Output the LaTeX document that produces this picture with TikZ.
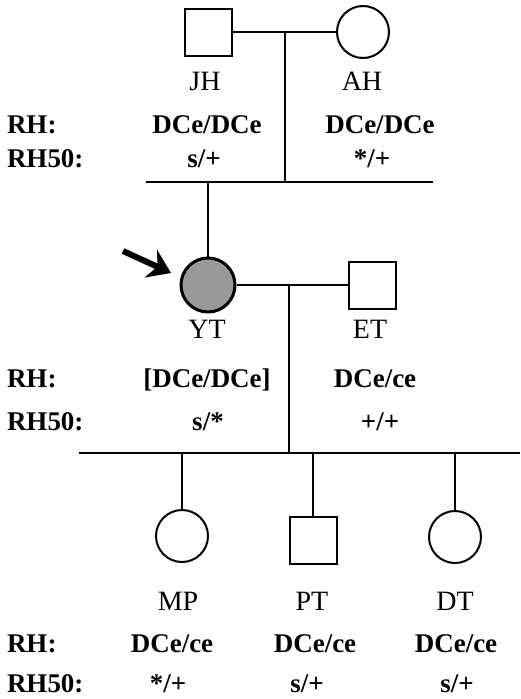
\documentclass[tikz,border=0pt]{standalone}
\usepackage{fontspec}
\setmainfont{Liberation Serif}
\usetikzlibrary{arrows.meta}
\begin{document}
\begin{tikzpicture}[x=1pt,y=-1pt,line width=2pt,
  male/.style={draw,rectangle,minimum size=47pt,inner sep=0pt,line width=2pt},
  female/.style={draw,circle,minimum size=52pt,inner sep=0pt,line width=2pt},
  pname/.style={anchor=base,inner sep=0pt,font=\fontsize{28}{28}\selectfont},
  geno/.style={anchor=base,inner sep=0pt,font=\fontsize{27}{27}\selectfont\bfseries},
  rowlab/.style={anchor=base west,inner sep=0pt,font=\fontsize{27}{27}\selectfont\bfseries},
  conn/.style={draw,line width=2pt}]
\useasboundingbox (0,0) rectangle (520,699);
% generation I
\node[male] (JH) at (208,32) {};
\node[female] (AH) at (363,32) {};
\coordinate (m1) at (285,32);
\coordinate (s1) at (285,182);
\coordinate (s1l) at (146,182);
\coordinate (s1r) at (433,182);
\coordinate (d1) at (208,182);
\draw[conn] (JH.east) -- (AH.west);
\draw[conn] (m1) -- (s1);
\draw[conn] (s1l) -- (s1r);
\node[pname] (tJH) at (205,90) {JH};
\node[pname] (tAH) at (362,90) {AH};
\node[rowlab] (l1a) at (6,133) {RH:};
\node[rowlab] (l1b) at (6,167) {RH50:};
\node[geno] (g1a) at (207,133) {DCe/DCe};
\node[geno] (g1b) at (380,133) {DCe/DCe};
\node[geno] (g1c) at (204,167) {s/+};
\node[geno] (g1d) at (372,167) {*/+};
% generation II
\node[female,fill=black!40,minimum size=54pt,line width=3pt] (YT) at (208,285) {};
\node[male] (ET) at (372,285) {};
\draw[conn] (d1) -- (YT.north);
\coordinate (m2) at (289,285);
\coordinate (s2) at (289,453);
\coordinate (s2l) at (79,453);
\coordinate (s2r) at (520,453);
\draw[conn] (YT.east) -- (ET.west);
\draw[conn] (m2) -- (s2);
\draw[conn] (s2l) -- (s2r);
\coordinate (atail) at (123,251);
\coordinate (atip) at (171,273);
\draw[line width=6pt,-{Stealth[length=22pt,width=30pt,inset=7pt]}] (atail) -- (atip);
\node[pname] (tYT) at (207,338) {YT};
\node[pname] (tET) at (370,338) {ET};
\node[rowlab] (l2a) at (6,387) {RH:};
\node[rowlab] (l2b) at (6,430) {RH50:};
\node[geno] (g2a) at (207,387) {[DCe/DCe]};
\node[geno] (g2b) at (375,387) {DCe/ce};
\node[geno] (g2c) at (208,430) {s/*};
\node[geno] (g2d) at (380,430) {+/+};
% generation III
\node[female] (MP) at (182,536) {};
\node[male] (PT) at (313,540) {};
\node[female] (DT) at (455,537) {};
\draw[conn] (MP.north |- s2l) -- (MP.north);
\draw[conn] (PT.north |- s2l) -- (PT.north);
\draw[conn] (DT.north |- s2l) -- (DT.north);
\node[pname] (tMP) at (178,610) {MP};
\node[pname] (tPT) at (312,610) {PT};
\node[pname] (tDT) at (455,610) {DT};
\node[rowlab] (l3a) at (6,652) {RH:};
\node[rowlab] (l3b) at (6,692) {RH50:};
\node[geno] (g3a) at (172,652) {DCe/ce};
\node[geno] (g3b) at (315,652) {DCe/ce};
\node[geno] (g3c) at (456,652) {DCe/ce};
\node[geno] (g3d) at (168,692) {*/+};
\node[geno] (g3e) at (307,692) {s/+};
\node[geno] (g3f) at (457,692) {s/+};
\end{tikzpicture}
\end{document}
